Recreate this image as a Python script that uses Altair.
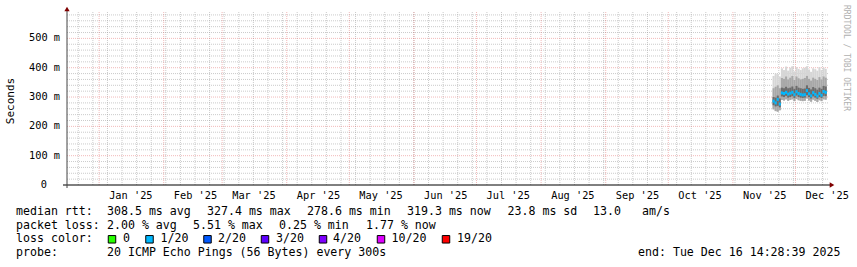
import altair as alt
import pandas as pd

# ---------------- data ----------------
days = ["2025-11-20", "2025-11-21", "2025-11-22", "2025-11-23", "2025-11-24",
        "2025-11-25", "2025-11-26", "2025-11-27", "2025-11-28", "2025-11-29",
        "2025-11-30", "2025-12-01", "2025-12-02", "2025-12-03", "2025-12-04",
        "2025-12-05", "2025-12-06", "2025-12-07", "2025-12-08", "2025-12-09",
        "2025-12-10", "2025-12-11", "2025-12-12", "2025-12-13", "2025-12-14",
        "2025-12-15"]
median_ms = [286, 280, 292, 276, 314, 312, 316, 310, 313, 316, 308, 318, 312,
             309, 307, 308, 322, 311, 304, 315, 309, 303, 312, 306, 319, 316]
min_ms = [258, 252, 250, 255, 290, 288, 292, 287, 290, 292, 286, 293, 289,
          287, 286, 287, 295, 288, 284, 291, 287, 283, 289, 286, 292, 291]
q1_ms = [272, 268, 270, 265, 302, 300, 304, 298, 300, 303, 297, 305, 300,
         298, 297, 298, 306, 300, 295, 302, 298, 294, 300, 297, 304, 303]
q3_ms = [300, 298, 305, 295, 332, 330, 335, 330, 332, 336, 328, 338, 332,
         330, 328, 329, 340, 331, 326, 334, 330, 325, 332, 328, 338, 336]
p90_ms = [330, 335, 340, 330, 365, 362, 370, 360, 366, 372, 358, 370, 364,
          360, 362, 365, 372, 362, 356, 366, 362, 358, 368, 360, 370, 366]
max_ms = [372, 380, 378, 370, 398, 392, 404, 390, 400, 405, 388, 402, 396,
          392, 398, 400, 405, 394, 386, 398, 395, 390, 402, 392, 400, 396]
loss = ["1/20"] * 26

loss_levels = ["0", "1/20", "2/20", "3/20", "4/20", "10/20", "19/20"]
loss_colors = ["#26ff00", "#00b8ff", "#0059ff", "#5e00ff", "#7e00ff", "#dd00ff", "#ff0000"]

range_start = "2024-12-16T14:28:39"
range_end = "2025-12-16T14:28:39"
y_ticks = [0, 100, 200, 300, 400, 500]
y_labels = ["0", "100 m", "200 m", "300 m", "400 m", "500 m"]

legend_rows = [
    [("median rtt:", 16), ("308.5 ms avg", 107), ("327.4 ms max", 207), ("278.6 ms min", 307),
     ("319.3 ms now", 407), ("23.8 ms sd", 507.5), ("13.0", 593), ("am/s", 642)],
    [("packet loss:", 16), ("2.00 % avg", 107), ("5.51 % max", 193), ("0.25 % min", 279),
     ("1.77 % now", 366)],
    [("loss color:", 16), ("0", 123), ("1/20", 160.5), ("2/20", 218), ("3/20", 276),
     ("4/20", 333), ("10/20", 391.5), ("19/20", 457)],
    [("probe:", 16), ("20 ICMP Echo Pings (56 Bytes) every 300s", 107),
     ("end: Tue Dec 16 14:28:39 2025", 638)],
]
legend_square_x = [112, 149.5, 207.5, 265, 323, 381, 446]

# ---------------- layout ----------------
PL, PT, W, H = 67, 12, 761, 173
MONO = "DejaVu Sans Mono"


def ms(s):
    return int(pd.Timestamp(s, tz="UTC").timestamp() * 1000)


DAY = 86400000
df = pd.DataFrame({
    "t0": [ms(d) for d in days],
    "t1": [ms(d) + DAY for d in days],
    "med": median_ms, "lo": min_ms, "q1": q1_ms, "q3": q3_ms,
    "p90": p90_ms, "hi": max_ms, "loss": loss,
})

xs = alt.Scale(type="utc", domain=[ms(range_start), ms(range_end)], nice=False)
ys = alt.Scale(domain=[0, 590], nice=False, zero=False)

month_starts = pd.date_range("2025-01-01", "2025-12-01", freq="MS", tz="UTC")
mid_months = [int((m + pd.Timedelta(days=15)).timestamp() * 1000) for m in month_starts]
sundays = pd.date_range("2024-12-22", "2025-12-14", freq="7D", tz="UTC")

x_axis = alt.Axis(values=mid_months, labelExpr="utcFormat(datum.value, \"%b '%y\")",
                  ticks=False, domain=False, grid=False, title=None,
                  labelFont=MONO, labelFontSize=10.3, labelColor="#000",
                  labelPadding=10, labelBaseline="middle", labelOverlap=False,
                  labelFlush=False, labelBound=False)

X = lambda f: alt.X(f, type="temporal", scale=xs, axis=x_axis)
Y = lambda f: alt.Y(f, type="quantitative", scale=ys, axis=None)

vminor = pd.DataFrame({"t": [int(s.timestamp() * 1000) for s in sundays]})
vmajor = pd.DataFrame({"t": [int(m.timestamp() * 1000) for m in month_starts]})
hminor = pd.DataFrame({"v": [v for v in range(20, 590, 20) if v % 100]})
hmajor = pd.DataFrame({"v": [v for v in y_ticks if v > 0]})
ylab = pd.DataFrame({"v": y_ticks, "lab": y_labels})

GRID = dict(strokeDash=[1, 1], strokeWidth=1)
layers = [
    alt.Chart(vminor).mark_rule(color="#a0a0a0", opacity=0.55, **GRID).encode(
        x=X("t"), y=alt.value(0), y2=alt.value(H)),
    alt.Chart(hminor).mark_rule(color="#a0a0a0", opacity=0.55, **GRID).encode(
        y=Y("v"), x=alt.value(0), x2=alt.value(W)),
    alt.Chart(vmajor).mark_rule(color="#de5050", opacity=0.4, **GRID).encode(
        x=X("t"), y=alt.value(0), y2=alt.value(H)),
    alt.Chart(hmajor).mark_rule(color="#de5050", opacity=0.4, **GRID).encode(
        y=Y("v"), x=alt.value(0), x2=alt.value(W)),
    # smoke
    alt.Chart(df).mark_rect(color="#d6d6d6").encode(x=X("t0"), x2="t1", y=Y("lo"), y2="hi"),
    alt.Chart(df).mark_rect(color="#a8a8a8").encode(x=X("t0"), x2="t1", y=Y("lo"), y2="p90"),
    alt.Chart(df).mark_rect(color="#6c6c6c").encode(x=X("t0"), x2="t1", y=Y("q1"), y2="q3"),
    # median
    alt.Chart(df).mark_rule(strokeWidth=3).encode(
        x=X("t0"), x2="t1", y=Y("med"),
        color=alt.Color("loss:N", scale=alt.Scale(domain=loss_levels, range=loss_colors),
                        legend=None)),
    # y tick labels
    alt.Chart(ylab).transform_filter("datum.v > 0").mark_text(
        align="right", baseline="middle", font=MONO, fontSize=10.3, color="#000").encode(
        y=Y("v"), x=alt.value(-7), text="lab:N"),
    alt.Chart(ylab).transform_filter("datum.v == 0").mark_text(
        align="right", baseline="middle", font=MONO, fontSize=10.3, color="#000").encode(
        y=Y("v"), x=alt.value(-20), text="lab:N"),
    # axis lines + arrows
    alt.Chart().mark_rule(color="#000", strokeWidth=1).encode(
        x=alt.value(-4), x2=alt.value(W + 2), y=alt.value(H)),
    alt.Chart().mark_rule(color="#444", strokeWidth=1).encode(
        x=alt.value(0), y=alt.value(H + 3), y2=alt.value(-2)),
    alt.Chart().mark_point(shape="triangle-up", filled=True, size=28, color="#7f0000",
                           opacity=1).encode(x=alt.value(0), y=alt.value(-3)),
    alt.Chart().mark_point(shape="triangle-right", filled=True, size=28, color="#7f0000",
                           opacity=1).encode(x=alt.value(W + 4), y=alt.value(H)),
    # axis title & watermark
    alt.Chart().mark_text(angle=270, font=MONO, fontSize=11, color="#000").encode(
        x=alt.value(11 - PL), y=alt.value(101 - PT), text=alt.value("Seconds")),
    alt.Chart().mark_text(angle=90, align="left", baseline="middle", font=MONO,
                          fontSize=8, color="#b0b0b0").encode(
        x=alt.value(846 - PL), y=alt.value(5 - PT), text=alt.value("RRDTOOL / TOBI OETIKER")),
]

row_y = [211.7, 225.7, 239.3, 253.3]
for ry, row in zip(row_y, legend_rows):
    for txt, tx in row:
        layers.append(alt.Chart().mark_text(align="left", baseline="middle", font=MONO,
                                            fontSize=11.6, color="#000").encode(
            x=alt.value(tx - PL), y=alt.value(ry - PT), text=alt.value(txt)))
for sx, col in zip(legend_square_x, loss_colors):
    layers.append(alt.Chart().mark_square(size=56, filled=True, fill=col, stroke="#000",
                                          strokeWidth=1, opacity=1).encode(
        x=alt.value(sx - PL), y=alt.value(row_y[2] - PT)))

chart = alt.layer(*layers).properties(
    width=W, height=H,
    padding={"left": PL, "top": PT, "right": 857 - PL - W, "bottom": 267 - PT - H},
    autosize=alt.AutoSizeParams(type="none"),
    background="white",
).configure_view(stroke=None)

chart.save("out.html", embed_options={"renderer": "svg", "actions": False})
